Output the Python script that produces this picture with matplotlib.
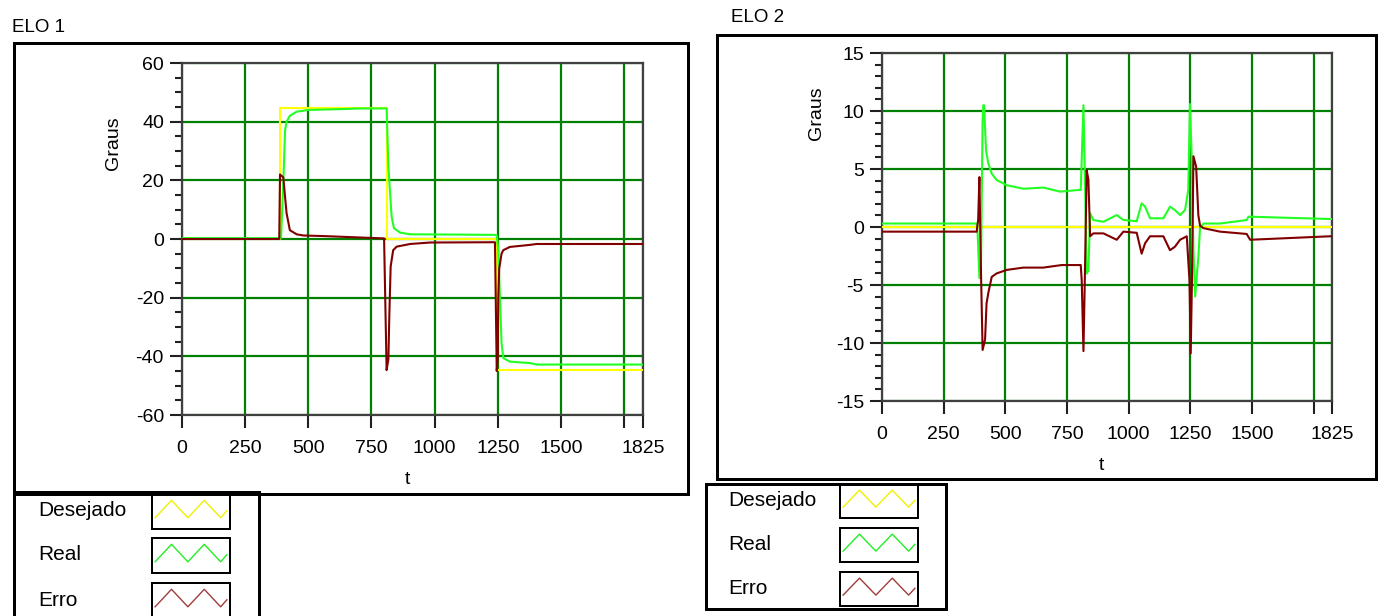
import matplotlib
matplotlib.use('Agg')
import matplotlib.pyplot as plt
from matplotlib.patches import Rectangle
from matplotlib.lines import Line2D
from matplotlib.ticker import MultipleLocator

# --- DADOS ---
# ELO 1
t_des1 = [0, 388, 810, 1246, 1825]
des1 = [0, 44.5, 0, -44.5, -44.5]

t_real1 = [0, 392, 401, 408, 414, 427, 454, 500, 640, 700, 810, 817, 823, 830, 839, 863, 903,
           1100, 1239, 1246, 1252, 1259, 1265, 1272, 1298, 1378, 1404, 1825]
real1 = [0.3, 0.3, 19, 37, 40, 42, 43.4, 44, 44.3, 44.5, 44.5, 24.7, 16.7, 7.6, 3.7, 2.2, 1.6,
         1.5, 1.4, 1.2, -3.8, -20.8, -35.5, -40.6, -41.8, -42.3, -42.8, -42.8]

t_erro1 = [0, 385, 388, 401, 408, 414, 427, 454, 480, 560, 800, 810, 817, 821, 826, 836, 850,
           903, 982, 1239, 1246, 1250, 1252, 1256, 1265, 1272, 1298, 1378, 1404, 1825]
erro1 = [0, 0, 22, 21, 14.4, 8.8, 3, 1.6, 1.2, 1.0, 0.2, -44.7, -41, -25.3, -9.4, -3.8, -2.6,
         -1.7, -1.2, -1.1, -45, -40, -20, -10, -5, -3.8, -2.7, -2.0, -1.7, -1.7]

# ELO 2
t_des2 = [0, 1825]
des2 = [0, 0]

t_real2 = [0, 384, 388, 395, 401, 408, 411, 414, 422, 431, 445, 465, 506, 573, 654, 722, 803,
           806, 817, 823, 830, 837, 844, 857, 898, 952, 979, 1033, 1053, 1067, 1087, 1141, 1168,
           1188, 1209, 1229, 1242, 1249, 1256, 1263, 1270, 1283, 1290, 1304, 1371, 1479, 1486,
           1817, 1825]
real2 = [0.3, 0.3, -0.6, -4.4, -4.4, 9.2, 10.5, 10.5, 6.6, 5.5, 4.6, 4.05, 3.6, 3.3, 3.4, 3.05,
         3.2, 3.2, 10.5, 4.4, -4.0, -3.8, 1.2, 0.6, 0.45, 1.03, 0.6, 0.5, 2.04, 1.75, 0.75, 0.75,
         1.75, 1.46, 1.03, 1.46, 3.2, 10.6, 6.0, -2.0, -6.0, -2.6, 0.0, 0.3, 0.3, 0.6, 0.89,
         0.69, 0.69]

t_erro2 = [0, 384, 390, 395, 401, 408, 418, 424, 431, 445, 465, 506, 573, 654, 729, 806, 810,
           817, 823, 830, 837, 844, 857, 898, 952, 979, 1033, 1053, 1067, 1087, 1141, 1168, 1188,
           1209, 1236, 1247, 1252, 1257, 1263, 1274, 1283, 1290, 1304, 1371, 1479, 1493, 1817,
           1825]
erro2 = [-0.4, -0.4, 0.6, 4.3, -3.4, -10.6, -9.7, -6.6, -5.7, -4.3, -4.0, -3.7, -3.5, -3.5,
         -3.28, -3.28, -4.6, -10.7, -4.0, 4.9, 4.1, -0.8, -0.55, -0.55, -1.1, -0.4, -0.5, -2.3,
         -1.4, -0.8, -0.8, -2.0, -1.7, -1.1, -0.8, -4.6, -10.9, -4.6, 6.1, 5.2, 1.0, 0.1, -0.1,
         -0.4, -0.6, -1.1, -0.8, -0.8]

x_ticks = [0, 250, 500, 750, 1000, 1250, 1500, 1750, 1825]
x_labels = ['0', '250', '500', '750', '1000', '1250', '1500', '', '1825']
legend_names = ['Desejado', 'Real', 'Erro']

# --- ESTILO ---
W, H = 1383, 616
C_DES = '#ffff00'
C_REAL = '#22ff22'
C_ERRO = '#800000'
C_GRID = '#008000'
LEG_COLORS = ['#f0f000', '#22ee22', '#a03c3c']
FONT = 'Liberation Sans'

plt.rcParams['font.family'] = [FONT, 'DejaVu Sans']
plt.rcParams['axes.unicode_minus'] = False


def fx(x):
    return x / W


def fy(y):
    return 1 - y / H


def box(fig, x0, y0, x1, y1, lw=3.0):
    fig.patches.append(Rectangle((fx(x0), fy(y1)), fx(x1) - fx(x0), fy(y0) - fy(y1),
                                 transform=fig.transFigure, fill=False,
                                 edgecolor='black', linewidth=lw * 72 / 100, zorder=5))


def panel(fig, rect, ylim, ymajor, yminor, series, ylabel_pos, xlabel_pos):
    x0, y0, x1, y1 = rect
    ax = fig.add_axes([fx(x0), fy(y1), fx(x1) - fx(x0), fy(y0) - fy(y1)])
    for t, v, c, ds in series:
        ax.plot(t, v, color=c, linewidth=1.5, drawstyle=ds, zorder=3)
    ax.set_xlim(0, 1825)
    ax.set_ylim(*ylim)
    ax.set_xticks(x_ticks)
    ax.set_xticklabels(x_labels)
    ax.yaxis.set_major_locator(MultipleLocator(ymajor))
    ax.yaxis.set_minor_locator(MultipleLocator(yminor))
    ax.grid(True, which='major', color=C_GRID, linewidth=1.6)
    ax.set_axisbelow(True)
    ax.tick_params(axis='both', which='major', length=9, width=1.5, labelsize=14,
                   direction='out', pad=4, color='#202020')
    ax.tick_params(axis='x', which='major', pad=9)
    ax.tick_params(axis='y', which='minor', length=5, width=1.5, color='#202020')
    for s in ax.spines.values():
        s.set_color('#404040')
        s.set_linewidth(1.6)
    ax.set_ylabel('Graus', fontsize=14)
    ax.yaxis.set_label_coords(*ylabel_pos)
    ax.set_xlabel('t', fontsize=14)
    ax.xaxis.set_label_coords(*xlabel_pos)
    return ax


def legenda(fig, x_text, x_sw0, x_sw1, rows):
    for (yc, ytop, ybot), name, c in zip(rows, legend_names, LEG_COLORS):
        fig.text(fx(x_text), fy(yc), name, fontsize=15, va='center', ha='left')
        box(fig, x_sw0, ytop, x_sw1, ybot, lw=2)
        w = x_sw1 - x_sw0
        lo = ytop + (ybot - ytop) * 0.68
        hi = ytop + (ybot - ytop) * 0.18
        xs = [x_sw0 + w * f for f in (0.04, 0.25, 0.46, 0.67, 0.88, 0.96)]
        ys = [lo, hi, lo, hi, lo, lo - (lo - hi) * 0.4]
        fig.lines.append(Line2D([fx(x) for x in xs], [fy(y) for y in ys], color=c,
                                linewidth=1.0, transform=fig.transFigure))


def main():
    fig = plt.figure(figsize=(W / 100, H / 100), dpi=100)
    fig.patch.set_facecolor('white')

    # ELO 1
    fig.text(fx(12), fy(27), 'ELO 1', fontsize=13.5, va='center', ha='left')
    box(fig, 13.5, 43.5, 687.5, 493.5)
    panel(fig, (182, 63, 643, 415), (-60, 60), 20, 5,
          [(t_des1, des1, C_DES, 'steps-post'), (t_real1, real1, C_REAL, 'default'),
           (t_erro1, erro1, C_ERRO, 'default')],
          (-0.13, 0.773), (0.488, -0.158))
    box(fig, 13.5, 492.5, 259, 640)
    legenda(fig, 38, 152, 230, [(511, 494, 529), (554, 538, 573), (600, 583, 618)])

    # ELO 2
    fig.text(fx(731), fy(17), 'ELO 2', fontsize=13.5, va='center', ha='left')
    box(fig, 716.5, 35.5, 1375.5, 479)
    panel(fig, (882, 53, 1332, 401), (-15, 15), 5, 1,
          [(t_des2, des2, C_DES, 'default'), (t_real2, real2, C_REAL, 'default'),
           (t_erro2, erro2, C_ERRO, 'default')],
          (-0.127, 0.828), (0.487, -0.16))
    box(fig, 706, 484, 946, 608.5)
    legenda(fig, 728, 840, 918, [(500, 484, 518), (545, 528, 562), (589, 572, 606)])

    fig.savefig('out.png', dpi=100, facecolor='white')


if __name__ == '__main__':
    main()
